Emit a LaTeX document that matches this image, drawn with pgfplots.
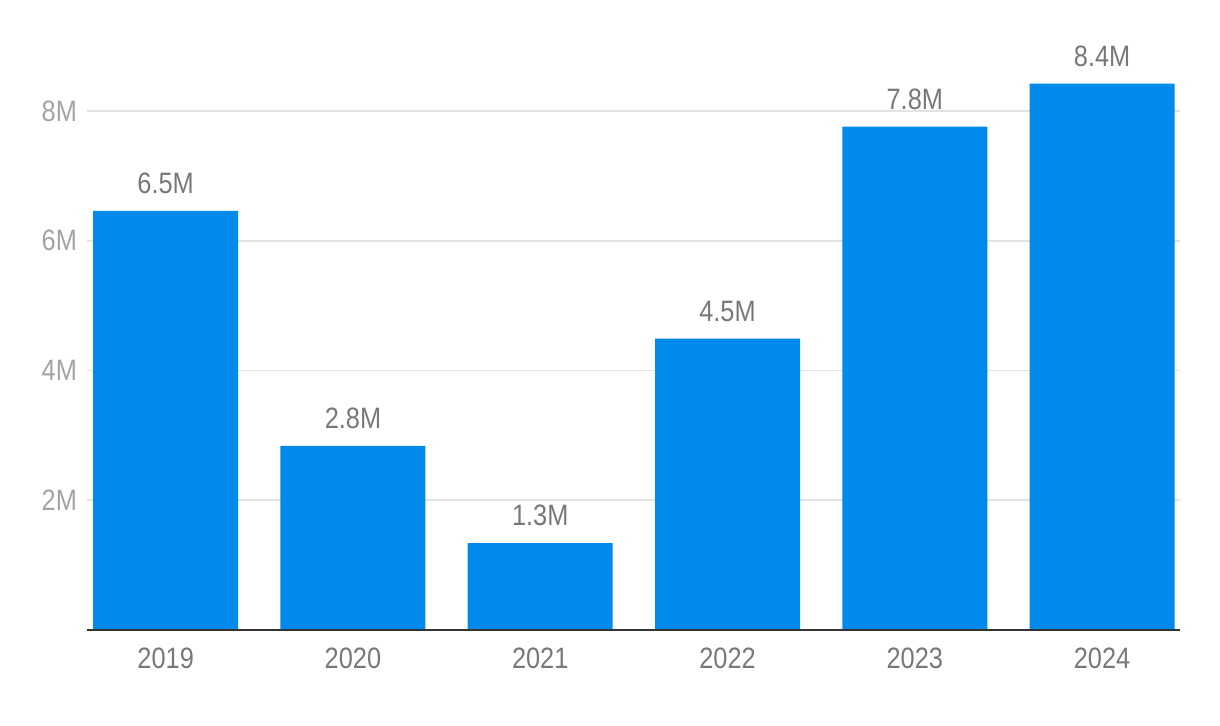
\documentclass[border=0pt]{standalone}
\usepackage{fontspec}
\setmainfont{Liberation Sans}[FakeStretch=0.86]
\usepackage{pgfplots}
\pgfplotsset{compat=1.18}
\definecolor{barblue}{HTML}{008AEC}
\definecolor{lbl}{HTML}{787878}
\definecolor{ytl}{HTML}{A3A3A3}
\definecolor{grid}{HTML}{E3E3E3}
\definecolor{base}{HTML}{333333}
\begin{document}
\begin{tikzpicture}
\begin{axis}[
  scale only axis,
  width=546.5bp, height=291.94bp,
  xmin=-0.42, xmax=5.416,
  ymin=0, ymax=9,
  axis line style={draw=none},
  clip=false,
  xtick={0,1,2,3,4,5},
  xticklabels={2019,2020,2021,2022,2023,2024},
  ytick={2,4,6,8},
  yticklabels={2M,4M,6M,8M},
  major tick length=0pt,
  ymajorgrids,
  grid style={draw=grid, line width=0.8bp},
  tick label style={font=\fontsize{14.8}{16}\selectfont},
  xticklabel style={text=lbl, yshift=-5.5bp},
  yticklabel style={text=ytl, xshift=-1.5bp},
  /pgf/number format/assume math mode=true,
  ybar, bar width=72.5bp,
  nodes near coords={\pgfmathprintnumber[fixed,fixed zerofill,precision=1]{\pgfplotspointmeta}M},
  nodes near coords style={font=\fontsize{14.8}{16}\selectfont, text=lbl, anchor=south, yshift=5bp},
]
\addplot[fill=barblue, draw=none] coordinates {(0,6.46) (1,2.84) (2,1.34) (3,4.49) (4,7.76) (5,8.42)};
\draw[base, line width=1bp] (rel axis cs:0,0) -- (rel axis cs:1,0);
\coordinate (o) at (rel axis cs:0,0);
\end{axis}
\path[use as bounding box] (o) ++(-43.5bp,-48bp) rectangle ++(610bp,363bp);
\end{tikzpicture}
\end{document}
